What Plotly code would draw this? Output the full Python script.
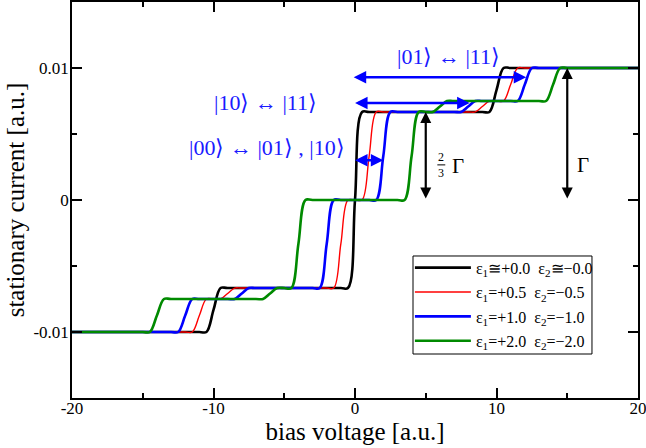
import plotly.graph_objects as go

# ---------------- data ----------------
# corner points of each I(V) staircase; the library's spline rounds the corners
BLACK_V = [-20, -11, -10.5, -10, -9.5, -9, -1, -0.5, 0, 0.5, 1, 9, 9.5, 10, 10.5, 11, 20]
BLACK_I = [-0.01, -0.01, -0.01, -0.00833, -0.00667, -0.00667, -0.00667, -0.00667, 0.0,
           0.00667, 0.00667, 0.00667, 0.00667, 0.00833, 0.01, 0.01, 0.01]

RED_V = [-20, -12, -11.5, -11, -10.5, -10, -9.5, -9, -8.5, -8,
         -2, -1.5, -1, -0.5, 0, 0.5, 1, 1.5, 2,
         8, 8.5, 9, 9.5, 10, 10.5, 11, 11.5, 12, 20]
RED_I = [-0.01, -0.01, -0.01, -0.00875, -0.0075, -0.0075, -0.0075, -0.00708, -0.00667, -0.00667,
         -0.00667, -0.00667, -0.00333, 0.0, 0.0, 0.0, 0.00333, 0.00667, 0.00667,
         0.00667, 0.00667, 0.00708, 0.0075, 0.0075, 0.0075, 0.00875, 0.01, 0.01, 0.01]

BLUE_V = [-20, -13, -12.5, -12, -11.5, -11, -9, -8.5, -8, -7.5, -7,
          -3, -2.5, -2, -1.5, -1, 1, 1.5, 2, 2.5, 3,
          7, 7.5, 8, 8.5, 9, 11, 11.5, 12, 12.5, 13, 20]
BLUE_I = [-0.01, -0.01, -0.01, -0.00875, -0.0075, -0.0075, -0.0075, -0.0075, -0.00708, -0.00667, -0.00667,
          -0.00667, -0.00667, -0.00333, 0.0, 0.0, 0.0, 0.0, 0.00333, 0.00667, 0.00667,
          0.00667, 0.00667, 0.00708, 0.0075, 0.0075, 0.0075, 0.0075, 0.00875, 0.01, 0.01, 0.01]

GREEN_V = [-20, -15, -14.5, -14, -13.5, -13, -7, -6.5, -6, -5.5, -5, -4.5, -4, -3.5, -3,
           3, 3.5, 4, 4.5, 5, 5.5, 6, 6.5, 7, 13, 13.5, 14, 14.5, 15, 20]
GREEN_I = [-0.01, -0.01, -0.01, -0.00875, -0.0075, -0.0075, -0.0075, -0.0075, -0.00708, -0.00667,
           -0.00667, -0.00667, -0.00333, 0.0, 0.0,
           0.0, 0.0, 0.00333, 0.00667, 0.00667, 0.00667, 0.00708, 0.0075, 0.0075, 0.0075,
           0.0075, 0.00875, 0.01, 0.01, 0.01]

SERIES_NAMES = [
    "ε<sub>1</sub>≅+0.0\u00a0\u00a0ε<sub>2</sub>≅−0.0",
    "ε<sub>1</sub>=+0.5\u00a0\u00a0ε<sub>2</sub>=−0.5",
    "ε<sub>1</sub>=+1.0\u00a0\u00a0ε<sub>2</sub>=−1.0",
    "ε<sub>1</sub>=+2.0\u00a0\u00a0ε<sub>2</sub>=−2.0",
]

X_TICKS = [-20, -10, 0, 10, 20]
X_TICK_TEXT = ["-20", "-10", "0", "10", "20"]
X_MINOR = [-15, -5, 5, 15]
Y_TICKS = [-0.01, 0, 0.01]
Y_TICK_TEXT = ["-0.01", "0", "0.01"]
Y_MINOR = [-0.005, 0.005]

# transition arrows: (V start, V end, current)
BLUE_ARROWS = [(-0.2, 12.1, 0.0093), (-0.1, 8.1, 0.00734), (-0.1, 2.0, 0.00302)]
BLUE_LABELS = [
    ("|01⟩ ↔ |11⟩", 6.64, 0.01090),
    ("|10⟩ ↔ |11⟩", -6.36, 0.00740),
    ("|00⟩ ↔ |01⟩ , |10⟩", -6.25, 0.00400),
]
# black level arrows: (V, bottom current, top current)
BLACK_ARROWS = [(5, 0.0, 0.00667), (15, 0.0, 0.01)]

SERIF = "Liberation Serif, Times New Roman, serif"
BLUE = "#0000ff"

# ---------------- figure ----------------
fig = go.Figure()
styles = [("#000000", 2.6), ("#ff0000", 1.4), ("#0000ff", 2.6), ("#008a00", 2.6)]
data = [(BLACK_V, BLACK_I), (RED_V, RED_I), (BLUE_V, BLUE_I), (GREEN_V, GREEN_I)]
for i, ((v, cur), (col, w), name) in enumerate(zip(data, styles, SERIES_NAMES)):
    fig.add_trace(go.Scatter(
        x=v, y=cur, mode="lines", name=name, legendgroup=f"g{i}",
        line=dict(color=col, width=w, shape="spline", smoothing=1.0),
        hoverinfo="skip",
    ))

for x0, x1, y in BLUE_ARROWS:
    fig.add_annotation(x=x1, y=y, ax=x0, ay=y, xref="x", yref="y", axref="x", ayref="y",
                       text="", showarrow=True, arrowside="end+start", arrowhead=2,
                       arrowsize=1.0, arrowwidth=2.5, arrowcolor=BLUE,
                       standoff=0, startstandoff=0)
for txt, x, y in BLUE_LABELS:
    fig.add_annotation(x=x, y=y, xref="x", yref="y", text=txt, showarrow=False,
                       font=dict(family=SERIF, size=22, color="#1a1aff"),
                       xanchor="center", yanchor="middle")

for x, y0, y1 in BLACK_ARROWS:
    fig.add_annotation(x=x, y=y1, ax=x, ay=y0, xref="x", yref="y", axref="x", ayref="y",
                       text="", showarrow=True, arrowside="end+start", arrowhead=2,
                       arrowsize=1.0, arrowwidth=2.2, arrowcolor="black",
                       standoff=0, startstandoff=0)

# labels 2/3 Γ and Γ (stacked fraction: numerator over denominator with a bar)
fig.add_annotation(x=6.06, y=0.00266, xref="x", yref="y", text="2<br>3", showarrow=False,
                   font=dict(family=SERIF, size=12, color="black"),
                   xanchor="center", yanchor="middle")
fig.add_shape(type="line", x0=5.82, x1=6.38, y0=0.00266, y1=0.00266, xref="x", yref="y",
              line=dict(color="black", width=1))
fig.add_annotation(x=7.28, y=0.00258, xref="x", yref="y", text="Γ", showarrow=False,
                   font=dict(family=SERIF, size=21, color="black"))
fig.add_annotation(x=16.14, y=0.00265, xref="x", yref="y", text="Γ", showarrow=False,
                   font=dict(family=SERIF, size=21, color="black"))

# legend frame (the legend itself is drawn transparent on top of it)
fig.add_shape(type="rect", xref="paper", yref="paper",
              x0=0.6025, x1=0.9187, y0=0.1111, y1=0.3586,
              fillcolor="white", line=dict(color="black", width=1), layer="above")

axis_common = dict(
    showgrid=False, zeroline=False, showline=True, linecolor="black", linewidth=1.5,
    mirror="ticks", ticks="inside", ticklen=10, tickwidth=1.5, tickcolor="black",
    tickmode="array", tickfont=dict(family=SERIF, size=17, color="black"),
)
fig.update_xaxes(range=[-20, 20], tickvals=X_TICKS, ticktext=X_TICK_TEXT,
                 ticklabelstandoff=-6, ticklabeloverflow="allow",
                 minor=dict(tickvals=X_MINOR, ticks="inside", ticklen=5, tickwidth=1.5,
                            tickcolor="black"),
                 title=dict(text="bias voltage [a.u.]", font=dict(family=SERIF, size=25),
                            standoff=0),
                 **axis_common)
fig.update_yaxes(range=[-0.015, 0.015], tickvals=Y_TICKS, ticktext=Y_TICK_TEXT,
                 ticklabelstandoff=-2,
                 minor=dict(tickvals=Y_MINOR, ticks="inside", ticklen=5, tickwidth=1.5,
                            tickcolor="black"),
                 title=dict(text="stationary current [a.u.]", font=dict(family=SERIF, size=25),
                            standoff=2),
                 **axis_common)

fig.update_layout(
    width=646, height=448,
    margin=dict(l=72, r=8, t=2, b=50, autoexpand=False),
    plot_bgcolor="white", paper_bgcolor="white",
    font=dict(family=SERIF, color="black"),
    showlegend=True,
    legend=dict(x=0.597, y=0.372, xanchor="left", yanchor="top",
                borderwidth=0, bgcolor="rgba(0,0,0,0)",
                font=dict(family=SERIF, size=16, color="black"),
                tracegroupgap=0.6, itemwidth=56),
)

fig.write_html(
    "out.html",
    config={"displayModeBar": False},
    post_script="document.body.style.margin='0';document.documentElement.style.overflow='hidden';",
)
